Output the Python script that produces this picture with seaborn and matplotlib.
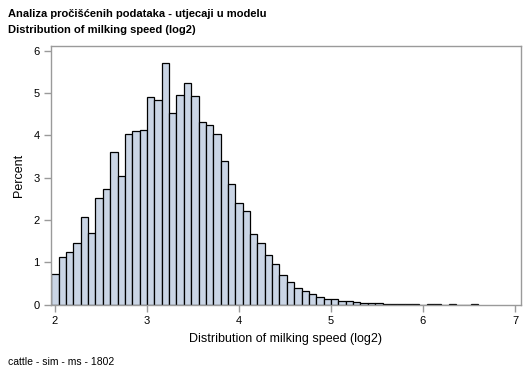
#Distribution of milking speed (log2) - histogram in percent
import pandas as pd
import numpy as np
import matplotlib.pyplot as plt
import seaborn as sns

#bin midpoints (width 0.08) and percent of cows in each bin
bin_mid = [2.00, 2.08, 2.16, 2.24, 2.32, 2.40, 2.48, 2.56, 2.64, 2.72,
           2.80, 2.88, 2.96, 3.04, 3.12, 3.20, 3.28, 3.36, 3.44, 3.52,
           3.60, 3.68, 3.76, 3.84, 3.92, 4.00, 4.08, 4.16, 4.24, 4.32,
           4.40, 4.48, 4.56, 4.64, 4.72, 4.80, 4.88, 4.96, 5.04, 5.12,
           5.20, 5.28, 5.36, 5.44, 5.52, 5.60, 5.68, 5.76, 5.84, 5.92,
           6.00, 6.08, 6.16, 6.24, 6.32, 6.40, 6.48, 6.56]
percent = [0.73, 1.13, 1.25, 1.46, 2.08, 1.70, 2.52, 2.74, 3.61, 3.04,
           4.03, 4.11, 4.13, 4.91, 4.83, 5.71, 4.53, 4.96, 5.24, 4.92,
           4.32, 4.25, 4.03, 3.40, 2.85, 2.41, 2.22, 1.67, 1.46, 1.18,
           0.97, 0.71, 0.54, 0.40, 0.33, 0.26, 0.19, 0.14, 0.14, 0.094,
           0.094, 0.07, 0.047, 0.047, 0.047, 0.024, 0.024, 0.024, 0.024, 0.024,
           0.0, 0.024, 0.024, 0.0, 0.024, 0.0, 0.0, 0.024]
x_ticks = [2, 3, 4, 5, 6, 7]
y_ticks = [0, 1, 2, 3, 4, 5, 6]

df = pd.DataFrame({'speed': bin_mid, 'pct': percent})

sns.set_style('white')
plt.rcParams['font.family'] = ['Liberation Sans', 'DejaVu Sans']
plt.rcParams['text.color'] = 'black'
plt.rcParams['axes.labelcolor'] = 'black'

fig = plt.figure(figsize=(5.29, 3.78), dpi=100)
ax = fig.add_axes([0.0958, 0.1939, 0.8885, 0.6836])

sns.histplot(data=df, x='speed', weights='pct', binwidth=0.08, binrange=(1.96, 6.60),
             color='#CAD5E5', edgecolor='black', linewidth=0.9, alpha=1, ax=ax)

ax.set_xlim(1.953, 7.062)
ax.set_ylim(0, 6.104)
ax.set_xticks(x_ticks)
ax.set_yticks(y_ticks)
ax.tick_params(axis='both', direction='out', length=5, width=1, color='#9A9A9A',
               labelsize=8, pad=3, labelcolor='black', bottom=True, left=True)
for s in ax.spines.values():
    s.set_color('#9A9A9A')
    s.set_linewidth(1)
ax.set_xlabel('Distribution of milking speed (log2)', fontsize=9, labelpad=5, color='black')
ax.set_ylabel('Percent', fontsize=9, labelpad=6, color='black')

fig.text(8/529, 1-14/378, 'Analiza pročišćenih podataka - utjecaji u modelu',
         fontsize=8, fontweight='bold', va='center', ha='left')
fig.text(8/529, 1-30/378, 'Distribution of milking speed (log2)',
         fontsize=8, fontweight='bold', va='center', ha='left')
fig.text(8/529, 1-362/378, 'cattle - sim - ms - 1802', fontsize=7.5, va='center', ha='left')

fig.savefig('out.png', dpi=100)
